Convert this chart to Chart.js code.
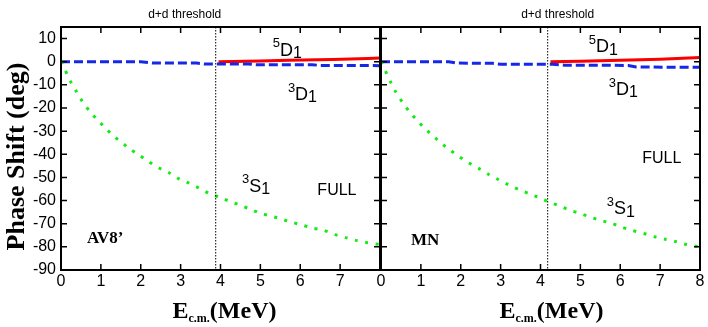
<!DOCTYPE html>
<html>
<head>
<meta charset="utf-8">
<script src="https://cdn.jsdelivr.net/npm/chart.js@4"></script>
<style>
  body { margin: 0; background: #fff; }
  #wrap { position: relative; width: 708px; height: 327px; overflow: hidden; }
  canvas { position: absolute; top: 0; }
</style>
</head>
<body>
<div id="wrap">
  <canvas id="left" width="382" height="327" style="left:0px"></canvas>
  <canvas id="right" width="348" height="327" style="left:360px"></canvas>
</div>
<script>
// ticks
var xTicks = [0, 1, 2, 3, 4, 5, 6, 7, 8];
var yTicks = [-90, -80, -70, -60, -50, -40, -30, -20, -10, 0, 10];

// AV8' panel
var av_s1_x = [0, 0.1, 0.23, 0.38, 0.53, 0.7, 0.9, 1.1, 1.3, 1.53, 1.75, 1.98, 2.2, 2.46, 2.71, 2.96, 3.2, 3.46, 3.7, 3.96, 4.23, 4.49, 4.76, 5.0, 5.29, 5.54, 5.8, 6.07, 6.34, 6.6, 6.87, 7.14, 7.42, 7.69, 8.0];
var av_s1_y = [0, -3.5, -8.3, -12.7, -17, -21, -24.9, -28.4, -31.9, -35, -38, -40.6, -43.2, -45.9, -48, -50.6, -52.4, -54.6, -56.8, -58.5, -60.3, -62, -63.8, -65.5, -66.8, -68.1, -69.4, -70.7, -72, -72.9, -74.7, -76, -77.3, -78.2, -79];
var av_3d1_x = [0, 2.0, 2.3, 3.4, 3.6, 4.7, 4.9, 6.3, 6.5, 8];
var av_3d1_y = [0, 0, -0.6, -0.6, -1.0, -1.0, -1.3, -1.3, -1.6, -1.7];
var av_5d1_x = [3.95, 5.0, 5.7, 6.8, 7.7, 8];
var av_5d1_y = [0, 0.3, 0.6, 1.0, 1.4, 1.6];
var av_threshold = 3.88;

// MN panel
var mn_s1_x = [0, 0.1, 0.23, 0.37, 0.53, 0.7, 0.88, 1.09, 1.3, 1.51, 1.74, 1.96, 2.2, 2.45, 2.69, 2.94, 3.19, 3.45, 3.71, 3.97, 4.23, 4.49, 4.74, 5.0, 5.26, 5.52, 5.8, 6.06, 6.32, 6.59, 6.85, 7.13, 7.39, 7.66, 7.94, 8.0];
var mn_s1_y = [0, -3.6, -8.4, -13.1, -17.3, -21.3, -24.9, -28.7, -32, -35.2, -38.3, -41, -43.7, -46.1, -48.6, -50.9, -53.1, -55.2, -57, -58.8, -60.7, -62.4, -64.2, -65.6, -67.2, -68.6, -69.9, -71.6, -73, -74.2, -75.6, -76.7, -77.7, -79, -79.9, -80.1];
var mn_3d1_x = [0, 1.7, 1.9, 2.8, 3.0, 4.3, 4.6, 6.2, 6.4, 8];
var mn_3d1_y = [0, 0, -0.6, -0.7, -1.1, -1.1, -1.5, -1.6, -2.3, -2.4];
var mn_5d1_x = [4.25, 5.0, 6.0, 7.0, 8.0];
var mn_5d1_y = [0, 0.2, 0.6, 1.1, 1.8];
var mn_threshold = 4.18;

function pts(xs, ys) {
    return xs.map(function(x, i) { return {x: x, y: ys[i]}; });
}

function datasets(s1x, s1y, d3x, d3y, d5x, d5y) {
    return [
        { data: pts(s1x, s1y), borderColor: 'rgb(20,235,20)', borderWidth: 3, borderDash: [3, 7.5], pointRadius: 0, tension: 0.2 },
        { data: pts(d3x, d3y), borderColor: 'rgb(20,40,230)', borderWidth: 3, borderDash: [9, 4], pointRadius: 0 },
        { data: pts(d5x, d5y), borderColor: 'rgb(250,0,0)', borderWidth: 3, pointRadius: 0 }
    ];
}

// draws superscript / main / subscript label like ^5D_1
function drawTerm(ctx, px, py, sup, main, sub) {
    ctx.textBaseline = 'middle';
    ctx.textAlign = 'left';
    ctx.font = '13px "Liberation Sans"';
    ctx.fillText(sup, px, py - 7);
    var w = ctx.measureText(sup).width;
    ctx.font = '18px "Liberation Sans"';
    ctx.fillText(main, px + w, py);
    w += ctx.measureText(main).width;
    ctx.font = '16px "Liberation Sans"';
    ctx.fillText(sub, px + w, py + 3);
}

var framePlugin = {
    id: 'frame',
    afterDraw: function(chart) {
        var o = chart.options.plugins.frame;
        var ctx = chart.ctx;
        var a = chart.chartArea;
        var xs = chart.scales.x, ys = chart.scales.y;
        ctx.save();
        ctx.strokeStyle = '#000';
        ctx.fillStyle = '#000';
        // threshold line
        var tx = xs.getPixelForValue(o.threshold);
        ctx.lineWidth = 1;
        ctx.setLineDash([1.5, 1.5]);
        ctx.beginPath();
        ctx.moveTo(tx, a.top);
        ctx.lineTo(tx, a.bottom);
        ctx.stroke();
        ctx.setLineDash([]);
        ctx.font = '12px "Liberation Sans"';
        ctx.textAlign = 'center';
        ctx.textBaseline = 'middle';
        ctx.fillText('d+d threshold', tx + o.thrTextDx, 15);

        // frame
        ctx.lineWidth = 2;
        ctx.strokeRect(a.left, a.top, a.right - a.left, a.bottom - a.top);
        // inward ticks
        ctx.lineWidth = 1.5;
        ctx.beginPath();
        xTicks.forEach(function(v) {
            var p = xs.getPixelForValue(v);
            ctx.moveTo(p, a.bottom); ctx.lineTo(p, a.bottom - 6);
            ctx.moveTo(p, a.top); ctx.lineTo(p, a.top + 6);
        });
        yTicks.forEach(function(v) {
            var p = ys.getPixelForValue(v);
            ctx.moveTo(a.left, p); ctx.lineTo(a.left + 6, p);
            ctx.moveTo(a.right, p); ctx.lineTo(a.right - 6, p);
        });
        ctx.stroke();

        // curve labels
        o.terms.forEach(function(t) {
            drawTerm(ctx, xs.getPixelForValue(t.x), ys.getPixelForValue(t.y), t.sup, t.main, t.sub);
        });
        ctx.font = '16px "Liberation Sans"';
        ctx.textAlign = 'center';
        ctx.textBaseline = 'middle';
        ctx.fillText('FULL', xs.getPixelForValue(o.full[0]), ys.getPixelForValue(o.full[1]));
        ctx.font = 'bold 17px "Liberation Serif"';
        ctx.textAlign = 'left';
        ctx.fillText(o.model, xs.getPixelForValue(o.modelPos[0]), ys.getPixelForValue(o.modelPos[1]));

        // x title E_c.m.(MeV)
        var cx = (a.left + a.right) / 2 + o.titleDx;
        ctx.font = 'bold 24px "Liberation Serif"';
        var wE = ctx.measureText('E').width;
        var wR = ctx.measureText('(MeV)').width;
        ctx.font = 'bold 12px "Liberation Serif"';
        var wS = ctx.measureText('c.m.').width;
        var x0 = cx - (wE + wS + wR) / 2;
        ctx.textAlign = 'left';
        ctx.textBaseline = 'alphabetic';
        ctx.font = 'bold 24px "Liberation Serif"';
        ctx.fillText('E', x0, 318);
        ctx.fillText('(MeV)', x0 + wE + wS, 318);
        ctx.font = 'bold 12px "Liberation Serif"';
        ctx.fillText('c.m.', x0 + wE, 322);

        // y title
        if (o.yTitle) {
            ctx.translate(17, (a.top + a.bottom) / 2 + 8);
            ctx.rotate(-Math.PI / 2);
            ctx.font = 'bold 26px "Liberation Serif"';
            ctx.textAlign = 'center';
            ctx.textBaseline = 'middle';
            ctx.fillText('Phase Shift (deg)', 0, 0);
        }
        ctx.restore();
    }
};

function makeChart(id, sets, frameOpts, showY, yWidth, padRight, hideLast) {
    return new Chart(document.getElementById(id), {
        type: 'line',
        data: { datasets: sets },
        options: {
            responsive: false,
            animation: false,
            layout: { padding: { top: 27, right: padRight, left: 0, bottom: 0 } },
            plugins: { legend: { display: false }, tooltip: { enabled: false }, frame: frameOpts },
            scales: {
                x: {
                    type: 'linear', min: 0, max: 8,
                    afterBuildTicks: function(s) { s.ticks = xTicks.map(function(v) { return {value: v}; }); },
                    afterFit: function(s) { s.height = 57; },
                    grid: { display: false, drawTicks: false },
                    border: { display: false },
                    ticks: {
                        autoSkip: false, padding: 2, color: '#000', maxRotation: 0,
                        font: { family: 'Liberation Sans', size: 16 },
                        callback: function(v) { return (hideLast && v === 8) ? '' : String(v); }
                    }
                },
                y: {
                    min: -90, max: 15,
                    afterBuildTicks: function(s) { s.ticks = yTicks.map(function(v) { return {value: v}; }); },
                    afterFit: function(s) { s.width = yWidth; },
                    grid: { display: false, drawTicks: false },
                    border: { display: false },
                    ticks: {
                        display: showY, padding: 5, color: '#000',
                        font: { family: 'Liberation Sans', size: 16 }
                    }
                }
            }
        },
        plugins: [framePlugin]
    });
}

makeChart('left',
    datasets(av_s1_x, av_s1_y, av_3d1_x, av_3d1_y, av_5d1_x, av_5d1_y),
    {
        threshold: av_threshold, thrTextDx: -31, titleDx: 4, yTitle: true,
        terms: [
            {x: 5.31, y: 4.8, sup: '5', main: 'D', sub: '1'},
            {x: 5.69, y: -14.4, sup: '3', main: 'D', sub: '1'},
            {x: 4.54, y: -54.1, sup: '3', main: 'S', sub: '1'}
        ],
        full: [6.92, -55.9], model: "AV8\u2019", modelPos: [0.65, -76.4]
    }, true, 61, 2, true);

makeChart('right',
    datasets(mn_s1_x, mn_s1_y, mn_3d1_x, mn_3d1_y, mn_5d1_x, mn_5d1_y),
    {
        threshold: mn_threshold, thrTextDx: 10, titleDx: 11, yTitle: false,
        terms: [
            {x: 5.21, y: 6.3, sup: '5', main: 'D', sub: '1'},
            {x: 5.71, y: -12.2, sup: '3', main: 'D', sub: '1'},
            {x: 5.66, y: -63.8, sup: '3', main: 'S', sub: '1'}
        ],
        full: [7.04, -41.9], model: 'MN', modelPos: [0.75, -77.5]
    }, false, 21, 8, false);
</script>
</body>
</html>
